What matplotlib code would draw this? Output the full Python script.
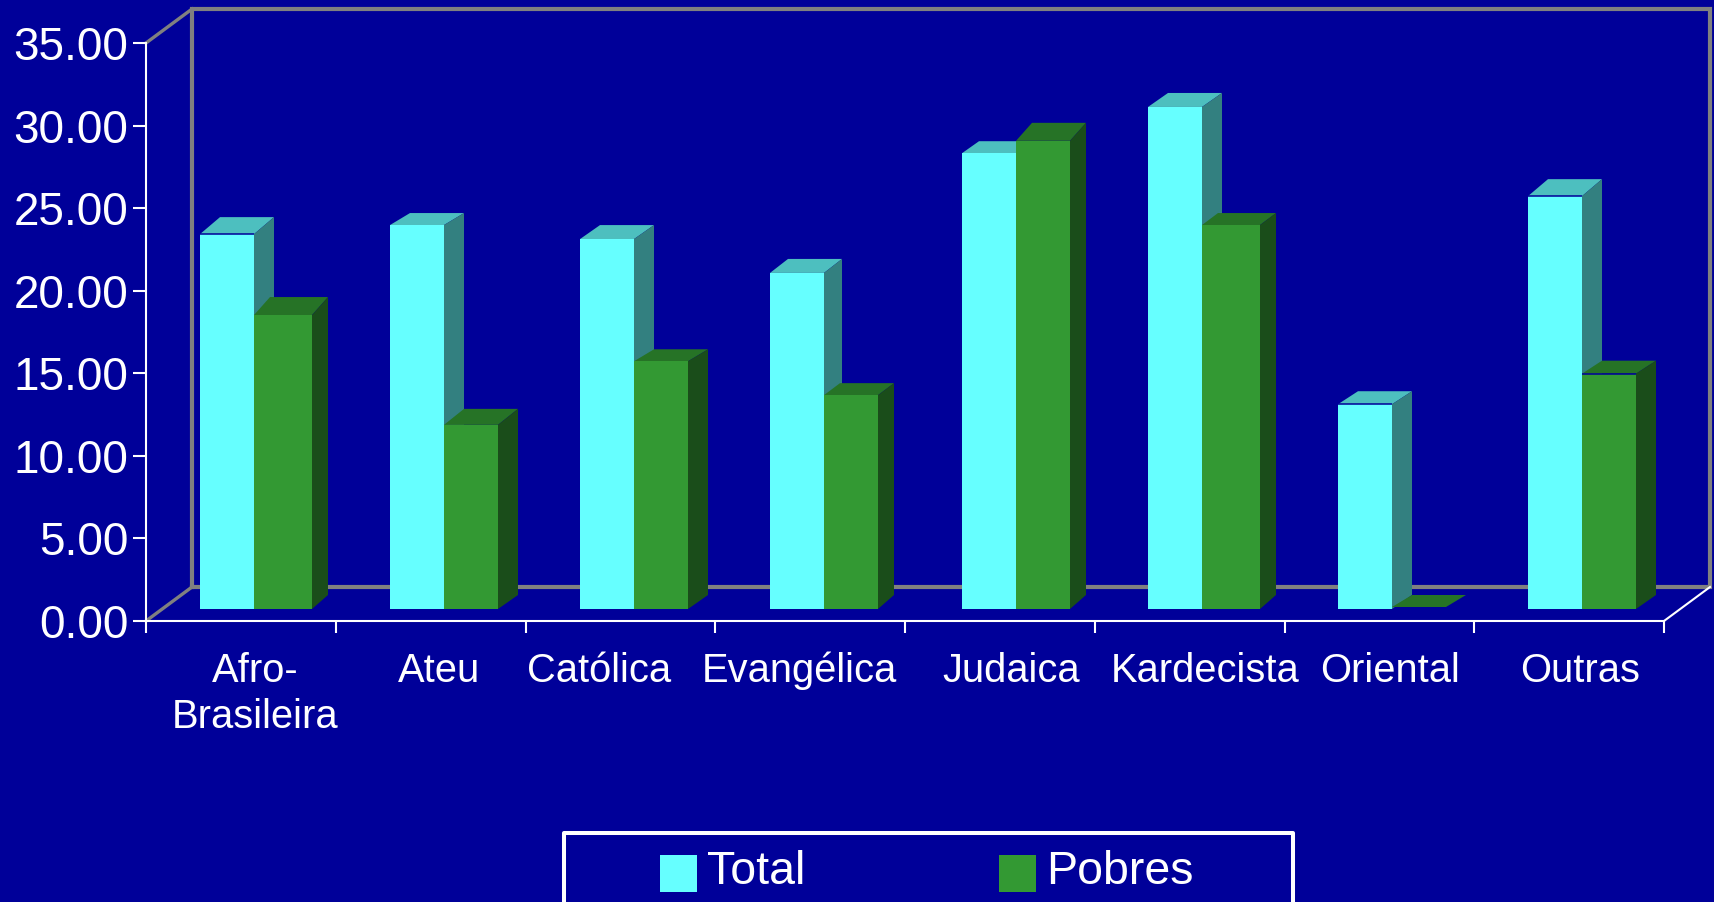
import matplotlib
matplotlib.use("Agg")
import matplotlib.pyplot as plt
from matplotlib.patches import Polygon, Rectangle, Patch
from matplotlib.ticker import FixedLocator, FixedFormatter, NullFormatter, FuncFormatter

plt.rcParams['font.family'] = ['Liberation Sans', 'DejaVu Sans']

# ---- data ----
categories = ['Afro-\nBrasileira', 'Ateu', 'Católica', 'Evangélica',
              'Judaica', 'Kardecista', 'Oriental', 'Outras']
total = [22.7, 23.25, 22.4, 20.35, 27.6, 30.4, 12.4, 25.0]
pobres = [17.8, 11.15, 15.0, 12.95, 28.35, 23.25, 0.0, 14.25]
y_ticks = [0, 5, 10, 15, 20, 25, 30, 35]
series_names = ['Total', 'Pobres']

# ---- style / layout (pixels of the 1714x902 canvas) ----
BG = '#000099'
CYAN, CYAN_TOP, CYAN_SIDE = '#66FFFF', '#4DBFBF', '#338080'
GREEN, GREEN_TOP, GREEN_SIDE = '#339933', '#267326', '#1A4D1A'
GRAY = '#808080'
W, H = 1714, 902
AX_L, AX_R, AX_T, AX_B = 146, 1664, 43, 621
PX_PER_CAT = (AX_R - AX_L) / 8
PX_PER_UNIT = (AX_B - AX_T) / 35
BACK_L, BACK_R, BACK_T, BACK_B = 192, 1710, 9, 587
BASE_PX = 609
BASE_BACK_PX = 595
FLAT_LIFT_PX = 2
T_LEFT_PX = [200, 390, 580, 770, 962, 1148, 1338, 1528]
T_W_PX = 54
P_W_PX = [58, 54, 54, 54, 54, 58, 54, 54]
T_DX = [20, 20, 20, 18, 17, 20, 20, 20]
T_DY = [17, 12, 14, 14, 12, 14, 13, 17]
P_DX = [16, 20, 20, 16, 16, 16, 20, 20]
P_DY = [18, 16, 12, 12, 18, 12, 12, 13]
T_NAVY = [True, False, False, False, False, False, True, True]
P_NAVY = [False, False, False, False, False, False, False, True]
LABEL_CX_PX = [255, 439, 599, 799, 1011, 1205, 1390, 1580]


def xd(p):
    return (p - AX_L) / PX_PER_CAT


def yd(p):
    return (AX_B - p) / PX_PER_UNIT


fig = plt.figure(figsize=(W / 100, H / 100), dpi=100, facecolor=BG)
ax = fig.add_axes([AX_L / W, (H - AX_B) / H, (AX_R - AX_L) / W, (AX_B - AX_T) / H],
                  facecolor=BG)
ax.set_xlim(0, 8)
ax.set_ylim(0, 35)

# back wall
wall = dict(color=GRAY, clip_on=False, zorder=1, solid_joinstyle='miter')
ax.plot([xd(BACK_L), xd(BACK_L), xd(BACK_R), xd(BACK_R), xd(BACK_L)],
        [yd(BACK_B), yd(BACK_T), yd(BACK_T), yd(BACK_B), yd(BACK_B)], lw=3.0, **wall)
ax.plot([xd(AX_L), xd(BACK_L)], [yd(AX_T), yd(BACK_T)], lw=2.4, **wall)
ax.plot([xd(AX_L), xd(BACK_L)], [yd(AX_B), yd(BACK_B)], lw=2.4, **wall)
ax.plot([xd(AX_R), xd(BACK_R)], [yd(AX_B), yd(BACK_B)], lw=1.5, color='white',
        clip_on=False, zorder=2)

base = yd(BASE_PX)
base_back = yd(BASE_BACK_PX)


def draw_bar(left_px, width_px, value, dx, dy, front, top, side, navy, z):
    x0, x1 = xd(left_px), xd(left_px + width_px)
    xb = dx / PX_PER_CAT
    yb = dy / PX_PER_UNIT
    y1 = base + value
    if value == 0:
        y1 += FLAT_LIFT_PX / PX_PER_UNIT
    ax.add_patch(Polygon([(x0, y1), (x1, y1), (x1 + xb, y1 + yb), (x0 + xb, y1 + yb)],
                         facecolor=top, edgecolor='none', zorder=z, clip_on=False))
    if value > 0:
        ax.add_patch(Polygon([(x1, y1), (x1 + xb, y1 + yb), (x1 + xb, base_back), (x1, base)],
                             facecolor=side, edgecolor='none', zorder=z, clip_on=False))
        ax.bar(x0, value, width=x1 - x0, bottom=base, align='edge', color=front,
               linewidth=0, zorder=z + 0.1)
    if navy:
        ax.plot([x0, x1], [y1, y1], color=BG, lw=1.1, zorder=z + 0.2,
                solid_capstyle='butt')


for i in range(len(categories)):
    t_left = T_LEFT_PX[i]
    draw_bar(t_left, T_W_PX, total[i], T_DX[i], T_DY[i], CYAN, CYAN_TOP, CYAN_SIDE,
             T_NAVY[i], 3 + i * 0.01)
    draw_bar(t_left + T_W_PX, P_W_PX[i], pobres[i], P_DX[i], P_DY[i], GREEN, GREEN_TOP,
             GREEN_SIDE, P_NAVY[i], 4 + i * 0.01)

# axes
for s in ('top', 'right'):
    ax.spines[s].set_visible(False)
for s in ('left', 'bottom'):
    ax.spines[s].set_color('white')
    ax.spines[s].set_linewidth(1.5)
    ax.spines[s].set_zorder(6)

ax.set_yticks(y_ticks)
ax.yaxis.set_major_formatter(FuncFormatter(lambda v, _: f'{v:.2f}'))
ax.tick_params(axis='y', colors='white', labelsize=33, length=9.4, width=1.5, pad=3.2)

ax.xaxis.set_major_locator(FixedLocator(list(range(9))))
ax.xaxis.set_major_formatter(NullFormatter())
ax.xaxis.set_minor_locator(FixedLocator([xd(p) for p in LABEL_CX_PX]))
ax.xaxis.set_minor_formatter(FixedFormatter(categories))
ax.tick_params(axis='x', which='major', colors='white', length=8.6, width=1.5)
ax.tick_params(axis='x', which='minor', colors='white', length=0, labelsize=28.7, pad=22)
for lab in ax.get_xticklabels(minor=True):
    lab.set_linespacing(1.28)

# legend
fig.add_artist(Rectangle((563.5 / W, -0.05), (1293 - 563.5) / W, (H - 833) / H + 0.05,
                         transform=fig.transFigure, facecolor='none', edgecolor='white',
                         linewidth=2.9, joinstyle='round'))
handles = [Patch(facecolor=CYAN, edgecolor='none', label=series_names[0]),
           Patch(facecolor=GREEN, edgecolor='none', label=series_names[1])]
leg = fig.legend(handles=handles, ncol=2, frameon=False, loc='upper left',
                 bbox_to_anchor=(660 / W, (H - 849) / H), borderaxespad=0, borderpad=0,
                 fontsize=33.5, labelcolor='white', handlelength=0.8, handleheight=0.86,
                 handletextpad=0.21, columnspacing=4.16)
for patch in leg.get_patches():
    patch.set_y(patch.get_y() - 4.0)

fig.savefig('out.png', dpi=100, facecolor=BG)
